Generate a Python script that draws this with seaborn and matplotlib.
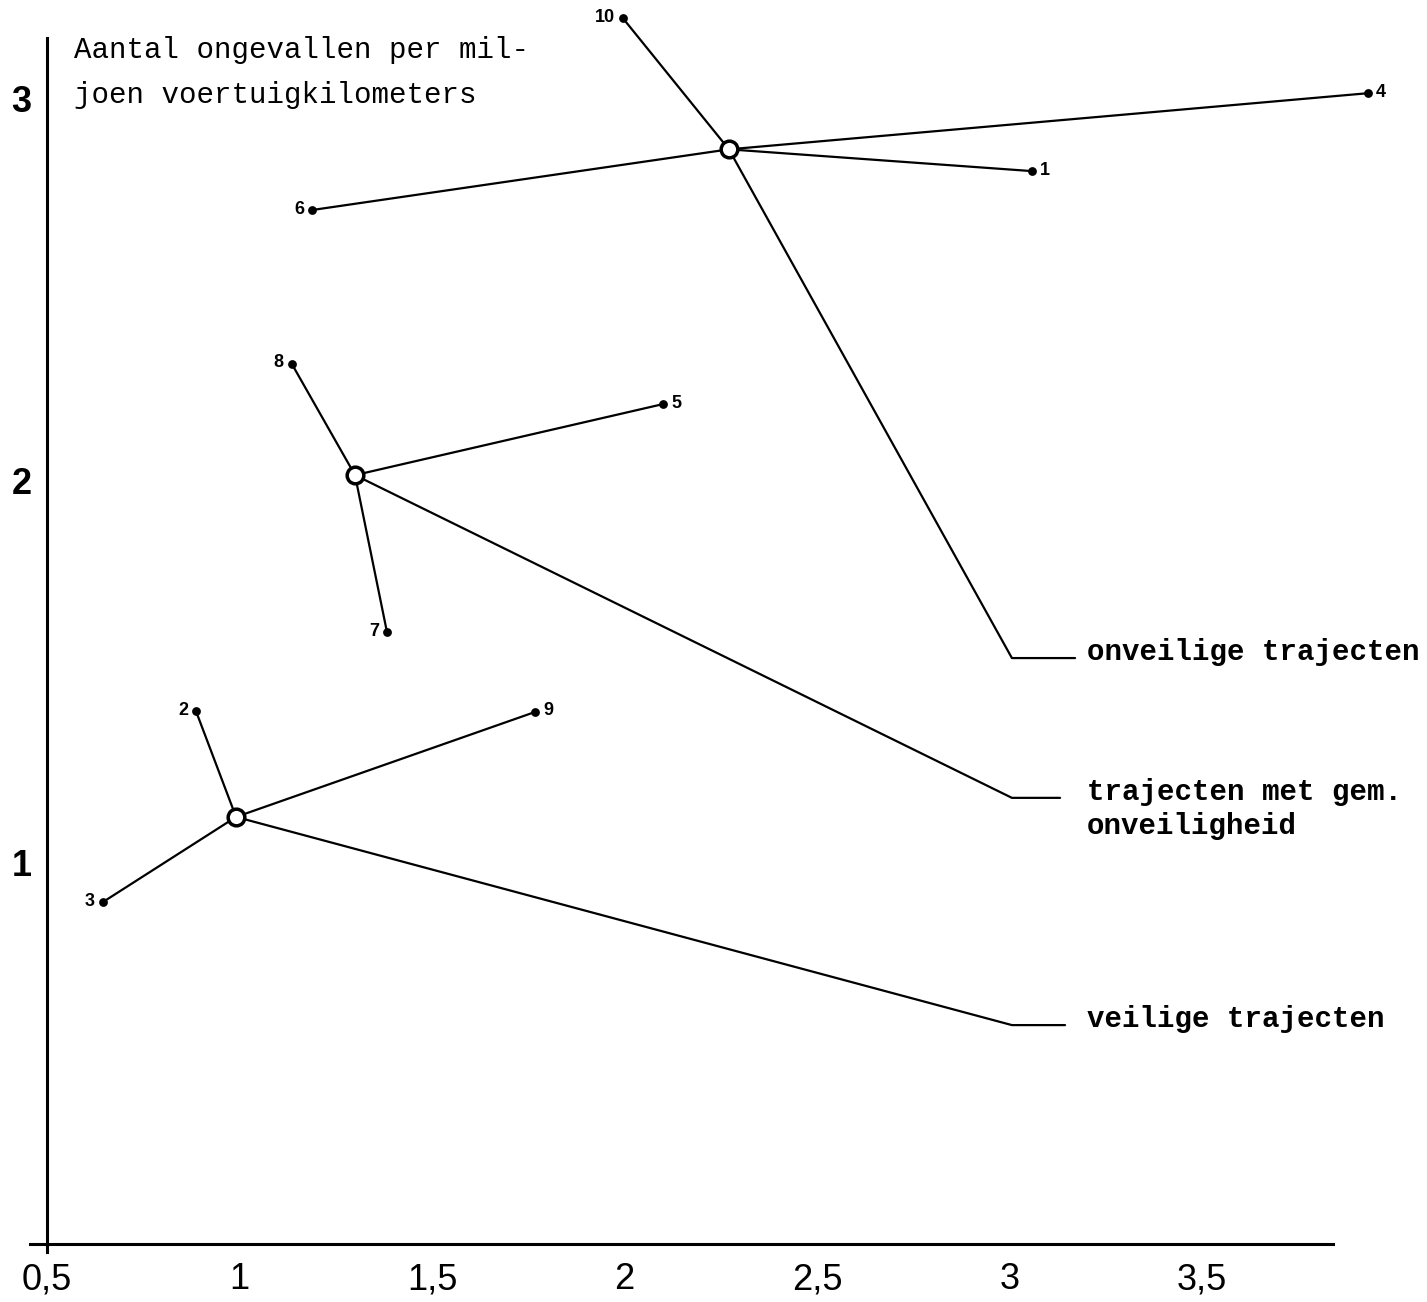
import pandas as pd
import seaborn as sns
import matplotlib.pyplot as plt

# groepen: centrum (gemiddelde) en de afzonderlijke trajecten
group_names = ["onveilige trajecten", "trajecten met gem.\nonveiligheid", "veilige trajecten"]
center_x = [2.271, 1.300, 0.991]
center_y = [2.866, 2.013, 1.118]

# trajecten (nummer, groep, x, y)
route_ids = [10, 4, 1, 6, 8, 5, 7, 2, 9, 3]
route_group = [0, 0, 0, 0, 1, 1, 1, 2, 2, 2]
route_x = [1.996, 3.931, 3.058, 1.188, 1.136, 2.100, 1.383, 0.887, 1.768, 0.645]
route_y = [3.209, 3.013, 2.809, 2.707, 2.304, 2.199, 1.602, 1.395, 1.393, 0.895]
label_side = ["l", "r", "r", "l", "l", "r", "l", "l", "r", "l"]

# verwijslijnen naar de tekst rechts
leader_x = [3.006, 3.006, 3.006]
leader_y = [1.534, 1.168, 0.573]
leader_end = [3.170, 3.131, 3.144]

x_ticks = [0.5, 1, 1.5, 2, 2.5, 3, 3.5]
x_ticklabels = ["0,5", "1", "1,5", "2", "2,5", "3", "3,5"]
y_ticks = [1, 2, 3]

# segmenten opbouwen
rows = []
seg = 0
for i in range(len(route_ids)):
    g = route_group[i]
    rows.append({"seg": seg, "x": center_x[g], "y": center_y[g]})
    rows.append({"seg": seg, "x": route_x[i], "y": route_y[i]})
    seg += 1
for g in range(len(group_names)):
    for px, py in [(center_x[g], center_y[g]), (leader_x[g], leader_y[g]), (leader_end[g], leader_y[g])]:
        rows.append({"seg": seg, "x": px, "y": py})
    seg += 1
seg_df = pd.DataFrame(rows)
route_df = pd.DataFrame({"x": route_x, "y": route_y})
center_df = pd.DataFrame({"x": center_x, "y": center_y})

sns.set_style("white")
plt.rcParams["text.color"] = "black"
plt.rcParams["xtick.color"] = "black"
plt.rcParams["ytick.color"] = "black"

fig = plt.figure(figsize=(14.27, 13.02), dpi=100)
ax = fig.add_axes([0, 0, 1, 1])

sns.lineplot(data=seg_df, x="x", y="y", units="seg", estimator=None, sort=False,
             color="black", linewidth=1.6, ax=ax)
sns.scatterplot(data=route_df, x="x", y="y", color="black", s=40, edgecolor="black",
                linewidth=0, ax=ax, zorder=4)
ax.plot(center_df["x"], center_df["y"], linestyle="none", marker="o", markersize=12,
        markerfacecolor="white", markeredgecolor="black", markeredgewidth=2.5, zorder=5)

for i, rid in enumerate(route_ids):
    dx = -8 if label_side[i] == "l" else 8
    ax.annotate(str(rid), (route_x[i], route_y[i]), xytext=(dx, 1), textcoords="offset pixels",
                ha="right" if label_side[i] == "l" else "left", va="center",
                fontsize=13, fontweight="bold", family="Liberation Sans", color="black")

# teksten rechts, allemaal in dezelfde kolom
for g, name in enumerate(group_names):
    ax.annotate(name, (leader_x[g], leader_y[g]), xytext=(75, 20), textcoords="offset pixels",
                ha="left", va="top", fontsize=21, fontweight="bold", family="Liberation Mono",
                linespacing=1.3, color="black")

ax.text(0.052, 0.972, "Aantal ongevallen per mil-\njoen voertuigkilometers",
        transform=ax.transAxes, ha="left", va="top", fontsize=21, family="Liberation Mono",
        linespacing=1.75, color="black")

# assen
ax.set_xlim(0.378, 4.084)
ax.set_ylim(-0.152, 3.257)
ax.set_xlabel("")
ax.set_ylabel("")
for s in ["top", "right"]:
    ax.spines[s].set_visible(False)
ax.spines["left"].set_position(("data", 0.5))
ax.spines["bottom"].set_position(("data", 0))
ax.spines["left"].set_bounds(-0.02, 3.157)
ax.spines["bottom"].set_bounds(0.455, 3.84)
for s in ["left", "bottom"]:
    ax.spines[s].set_linewidth(2.2)
    ax.spines[s].set_color("black")

ax.set_xticks(x_ticks)
ax.set_xticklabels(x_ticklabels)
ax.set_yticks(y_ticks)
ax.set_yticklabels([str(v) for v in y_ticks])
ax.tick_params(axis="both", direction="out", length=9, width=2, color="black",
               labelcolor="black")
ax.tick_params(axis="x", labelsize=26, pad=4)
ax.tick_params(axis="y", labelsize=26, pad=2)
for lab in ax.get_xticklabels():
    lab.set_fontfamily("Liberation Sans")
for lab in ax.get_yticklabels():
    lab.set_fontfamily("Liberation Sans")
    lab.set_fontweight("bold")

fig.savefig("out.png", dpi=100, facecolor="white")
